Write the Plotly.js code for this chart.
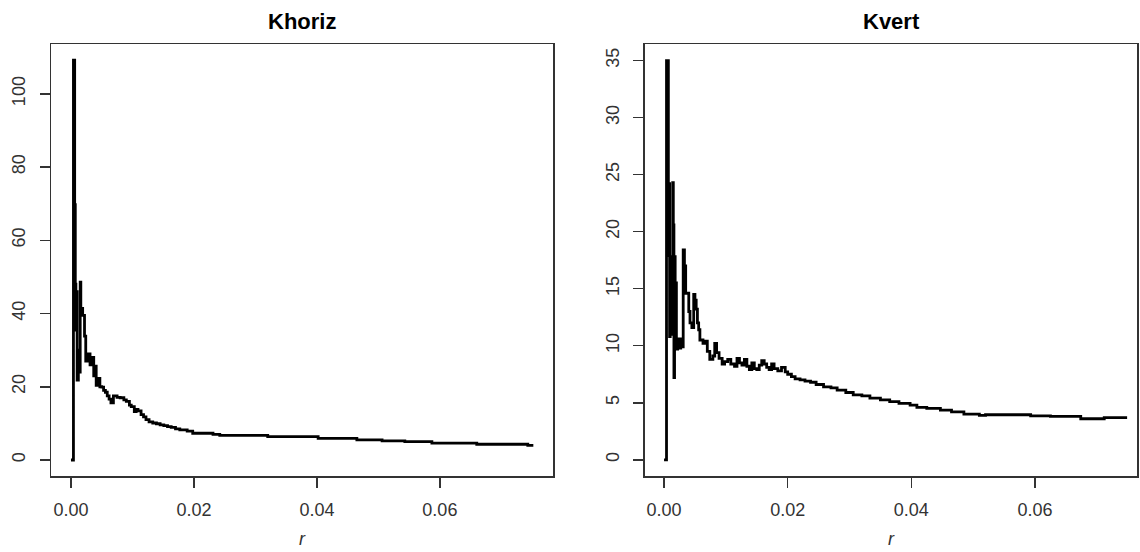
<!DOCTYPE html>
<html>
<head>
<meta charset="utf-8">
<script src="https://cdn.plot.ly/plotly-3.0.1.min.js"></script>
<style>html,body{margin:0;padding:0;background:#fff;}#chart{width:1140px;height:552px;}</style>
</head>
<body>
<div id="chart"></div>
<script>
// Khoriz panel
const rHoriz = [0,0.0004,0.0006,0.0007,0.0008,0.0009,0.0010,0.0012,0.0013,0.0015,0.0016,0.0019,0.0022,0.0024,0.0027,0.0031,0.0034,0.0037,0.0038,0.0041,0.0044,0.0047,0.0050,0.0053,0.0056,0.0059,0.0062,0.0065,0.0069,0.0075,0.0080,0.0086,0.0090,0.0095,0.0098,0.0103,0.0106,0.0109,0.0114,0.0118,0.0122,0.0127,0.0133,0.0139,0.0145,0.0151,0.0157,0.0163,0.0170,0.0177,0.0189,0.0198,0.0231,0.0242,0.0320,0.0402,0.0465,0.0506,0.0543,0.0587,0.0660,0.0743,0.0752];
const kHoriz = [0,109.2,69.7,48.0,35.5,46.0,21.8,30.0,24.0,48.6,41.4,39.5,33.8,27.0,29.0,26.0,28.0,23.0,25.6,20.4,22.3,20.0,19.9,19.0,18.5,17.5,16.6,15.6,17.5,17.1,17.0,16.4,16.0,15.0,14.6,13.2,13.8,13.4,12.4,11.8,11.0,10.4,10.1,9.9,9.6,9.4,9.1,8.9,8.5,8.2,7.9,7.3,7.0,6.7,6.4,5.9,5.5,5.2,5.0,4.6,4.3,4.0,4.0];

// Kvert panel
const rVert = [0,0.0004,0.0007,0.0008,0.0009,0.0010,0.0011,0.0014,0.0015,0.0016,0.0017,0.0018,0.0019,0.0020,0.0022,0.0024,0.0027,0.0029,0.0031,0.0033,0.0035,0.0040,0.0042,0.0045,0.0048,0.0050,0.0052,0.0054,0.0056,0.0058,0.0063,0.0067,0.0070,0.0074,0.0079,0.0082,0.0085,0.0089,0.0094,0.0098,0.0103,0.0108,0.0114,0.0118,0.0122,0.0126,0.0130,0.0134,0.0138,0.0142,0.0146,0.0150,0.0154,0.0158,0.0162,0.0166,0.0170,0.0174,0.0178,0.0184,0.0190,0.0196,0.0200,0.0206,0.0212,0.0220,0.0228,0.0237,0.0246,0.0258,0.0270,0.0280,0.0294,0.0306,0.0320,0.0333,0.0350,0.0365,0.0380,0.0398,0.0409,0.0425,0.0447,0.0465,0.0485,0.0510,0.0520,0.0593,0.0625,0.0674,0.0712,0.0749];
const kVert = [0,35.0,17.9,24.2,10.8,17.8,11.0,24.3,20.6,7.2,17.8,13.6,15.5,9.7,10.6,9.8,10.6,9.9,18.4,17.0,14.6,13.0,12.0,11.6,14.5,14.0,13.2,12.0,11.4,10.5,10.2,10.4,9.5,8.8,9.1,10.2,9.4,8.9,8.4,8.6,8.8,8.4,8.2,8.9,8.5,8.3,8.8,8.2,7.9,8.5,8.0,7.9,8.3,8.7,8.4,8.1,7.9,8.4,8.0,7.8,8.1,7.7,7.5,7.3,7.1,7.0,6.9,6.8,6.6,6.4,6.3,6.1,5.9,5.7,5.6,5.4,5.25,5.1,4.95,4.8,4.6,4.5,4.35,4.2,4.0,3.9,3.95,3.85,3.8,3.6,3.7,3.7];

const xTicks = [0, 0.02, 0.04, 0.06];
const yTicksHoriz = [0, 20, 40, 60, 80, 100];
const yTicksVert = [0, 5, 10, 15, 20, 25, 30, 35];
const titles = ['Khoriz', 'Kvert'];
const xLabel = 'r';

const FONT = 'Liberation Sans, Arial, sans-serif';
const axisCommon = {
  showline: true, mirror: true, linecolor: '#333', linewidth: 1.5,
  ticks: 'outside', ticklen: 10, tickwidth: 1.5, tickcolor: '#333',
  showgrid: false, zeroline: false, fixedrange: true,
  tickfont: {family: FONT, size: 18, color: '#333'}
};

const traces = [
  {x: rHoriz, y: kHoriz, xaxis: 'x', yaxis: 'y', type: 'scatter', mode: 'lines',
   line: {color: '#000', width: 2.8, shape: 'hv'}, hoverinfo: 'skip'},
  {x: rVert, y: kVert, xaxis: 'x2', yaxis: 'y2', type: 'scatter', mode: 'lines',
   line: {color: '#000', width: 2.8, shape: 'hv'}, hoverinfo: 'skip'}
];

const yDom = [1 - 476/552, 1 - 44/552];
const layout = {
  width: 1140, height: 552,
  margin: {l: 0, r: 0, t: 0, b: 0},
  paper_bgcolor: '#fff', plot_bgcolor: '#fff',
  showlegend: false,
  xaxis: Object.assign({}, axisCommon, {domain: [51/1140, 553/1140], range: [-0.00325, 0.0784],
    tickvals: xTicks, tickformat: '.2f', ticklabelstandoff: 7, anchor: 'y'}),
  yaxis: Object.assign({}, axisCommon, {domain: yDom, range: [-4.37, 113.6],
    tickvals: yTicksHoriz, tickangle: -90, ticklabelstandoff: 7, anchor: 'x'}),
  xaxis2: Object.assign({}, axisCommon, {domain: [644.5/1140, 1137/1140], range: [-0.00316, 0.0765],
    tickvals: xTicks, tickformat: '.2f', ticklabelstandoff: 7, anchor: 'y2'}),
  yaxis2: Object.assign({}, axisCommon, {domain: yDom, range: [-1.42, 36.45],
    tickvals: yTicksVert, tickangle: -90, ticklabelstandoff: 7, anchor: 'x2'}),
  annotations: [
    {text: '<b>' + titles[0] + '</b>', xref: 'paper', yref: 'paper', x: 302/1140, y: 1 - 21/552,
     xanchor: 'center', yanchor: 'middle', showarrow: false, font: {family: FONT, size: 22, color: '#000'}},
    {text: '<b>' + titles[1] + '</b>', xref: 'paper', yref: 'paper', x: 891/1140, y: 1 - 21/552,
     xanchor: 'center', yanchor: 'middle', showarrow: false, font: {family: FONT, size: 22, color: '#000'}},
    {text: '<i>' + xLabel + '</i>', xref: 'paper', yref: 'paper', x: 302/1140, y: 1 - 539/552,
     xanchor: 'center', yanchor: 'middle', showarrow: false, font: {family: FONT, size: 18, color: '#333'}},
    {text: '<i>' + xLabel + '</i>', xref: 'paper', yref: 'paper', x: 891/1140, y: 1 - 539/552,
     xanchor: 'center', yanchor: 'middle', showarrow: false, font: {family: FONT, size: 18, color: '#333'}}
  ]
};

Plotly.newPlot('chart', traces, layout, {displayModeBar: false, staticPlot: true});
</script>
</body>
</html>
